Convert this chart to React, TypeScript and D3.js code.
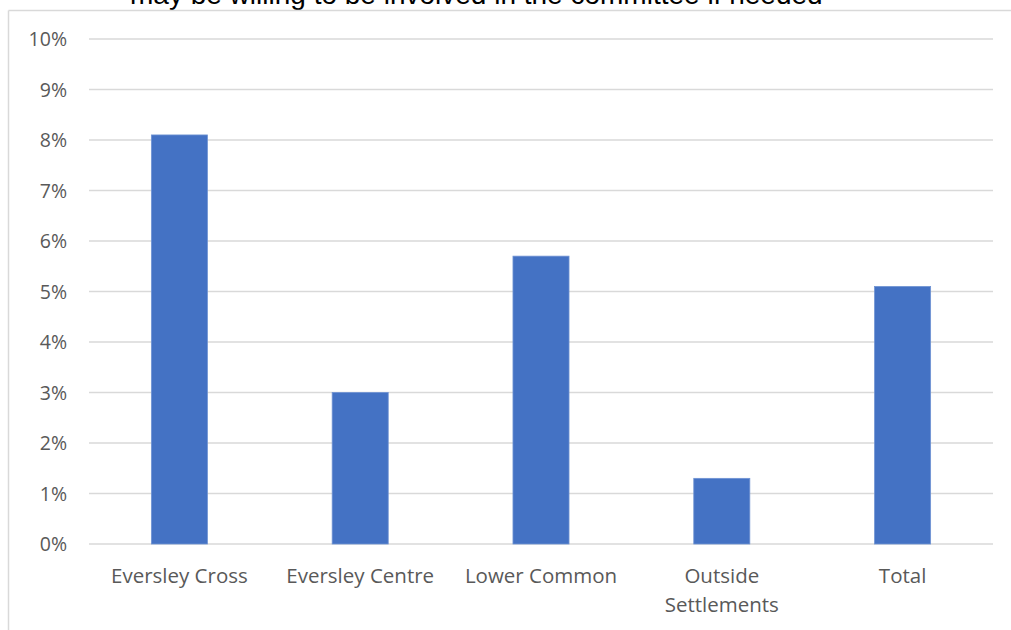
import React from "react";
import * as d3 from "d3";

const categories = ["Eversley Cross", "Eversley Centre", "Lower Common", "Outside Settlements", "Total"];
const values = [8.1, 3.0, 5.7, 1.3, 5.1];
const yTicks = [0, 1, 2, 3, 4, 5, 6, 7, 8, 9, 10];
const titleText = "may be willing to be involved in the committee if needed";

const W = 1011;
const H = 630;
const M = { left: 89, right: 993, top: 39, bottom: 544 };

export default function App() {
  const x = d3.scaleBand<string>().domain(categories).range([M.left, M.right]).paddingInner(0.69).paddingOuter(0.345);
  const y = d3.scaleLinear().domain([0, 10]).range([M.bottom, M.top]);
  const font = "'Open Sans', 'Noto Sans', sans-serif";
  return (
    <svg width={W} height={H} style={{ position: "absolute", left: 0, top: 0, background: "#fff" }}>
      <rect x={0} y={0} width={W} height={H} fill="#fff" />
      <text x={130} y={4} fontFamily="'Liberation Sans', Arial, sans-serif" fontSize={28} fill="#000">
        {titleText}
      </text>
      <line x1={8.5} x2={W} y1={10.5} y2={10.5} stroke="#d9d9d9" strokeWidth={1.5} />
      <line x1={8.5} x2={8.5} y1={10.5} y2={H} stroke="#d9d9d9" strokeWidth={1.5} />
      {yTicks.map((t) => (
        <g key={t}>
          <line x1={M.left} x2={M.right} y1={y(t)} y2={y(t)} stroke="#d9d9d9" strokeWidth={1.5} />
          <text x={67} y={y(t)} dy="0.36em" textAnchor="end" fontFamily={font} fontSize={19.5} fill="#595959">
            {t}%
          </text>
        </g>
      ))}
      {categories.map((c, i) => (
        <rect
          key={c}
          x={x(c)}
          y={y(values[i])}
          width={x.bandwidth()}
          height={y(0) - y(values[i])}
          fill="#4472C4"
          stroke="#6f93d3"
          strokeWidth={0.8}
        />
      ))}
      {categories.map((c) => {
        const cx = (x(c) as number) + x.bandwidth() / 2;
        const words = c === "Outside Settlements" ? ["Outside", "Settlements"] : [c];
        return (
          <text key={c} x={cx} y={583} textAnchor="middle" fontFamily={font} fontSize={20.5} fill="#595959">
            {words.map((w, j) => (
              <tspan key={w} x={cx} dy={j === 0 ? 0 : 29}>
                {w}
              </tspan>
            ))}
          </text>
        );
      })}
    </svg>
  );
}
